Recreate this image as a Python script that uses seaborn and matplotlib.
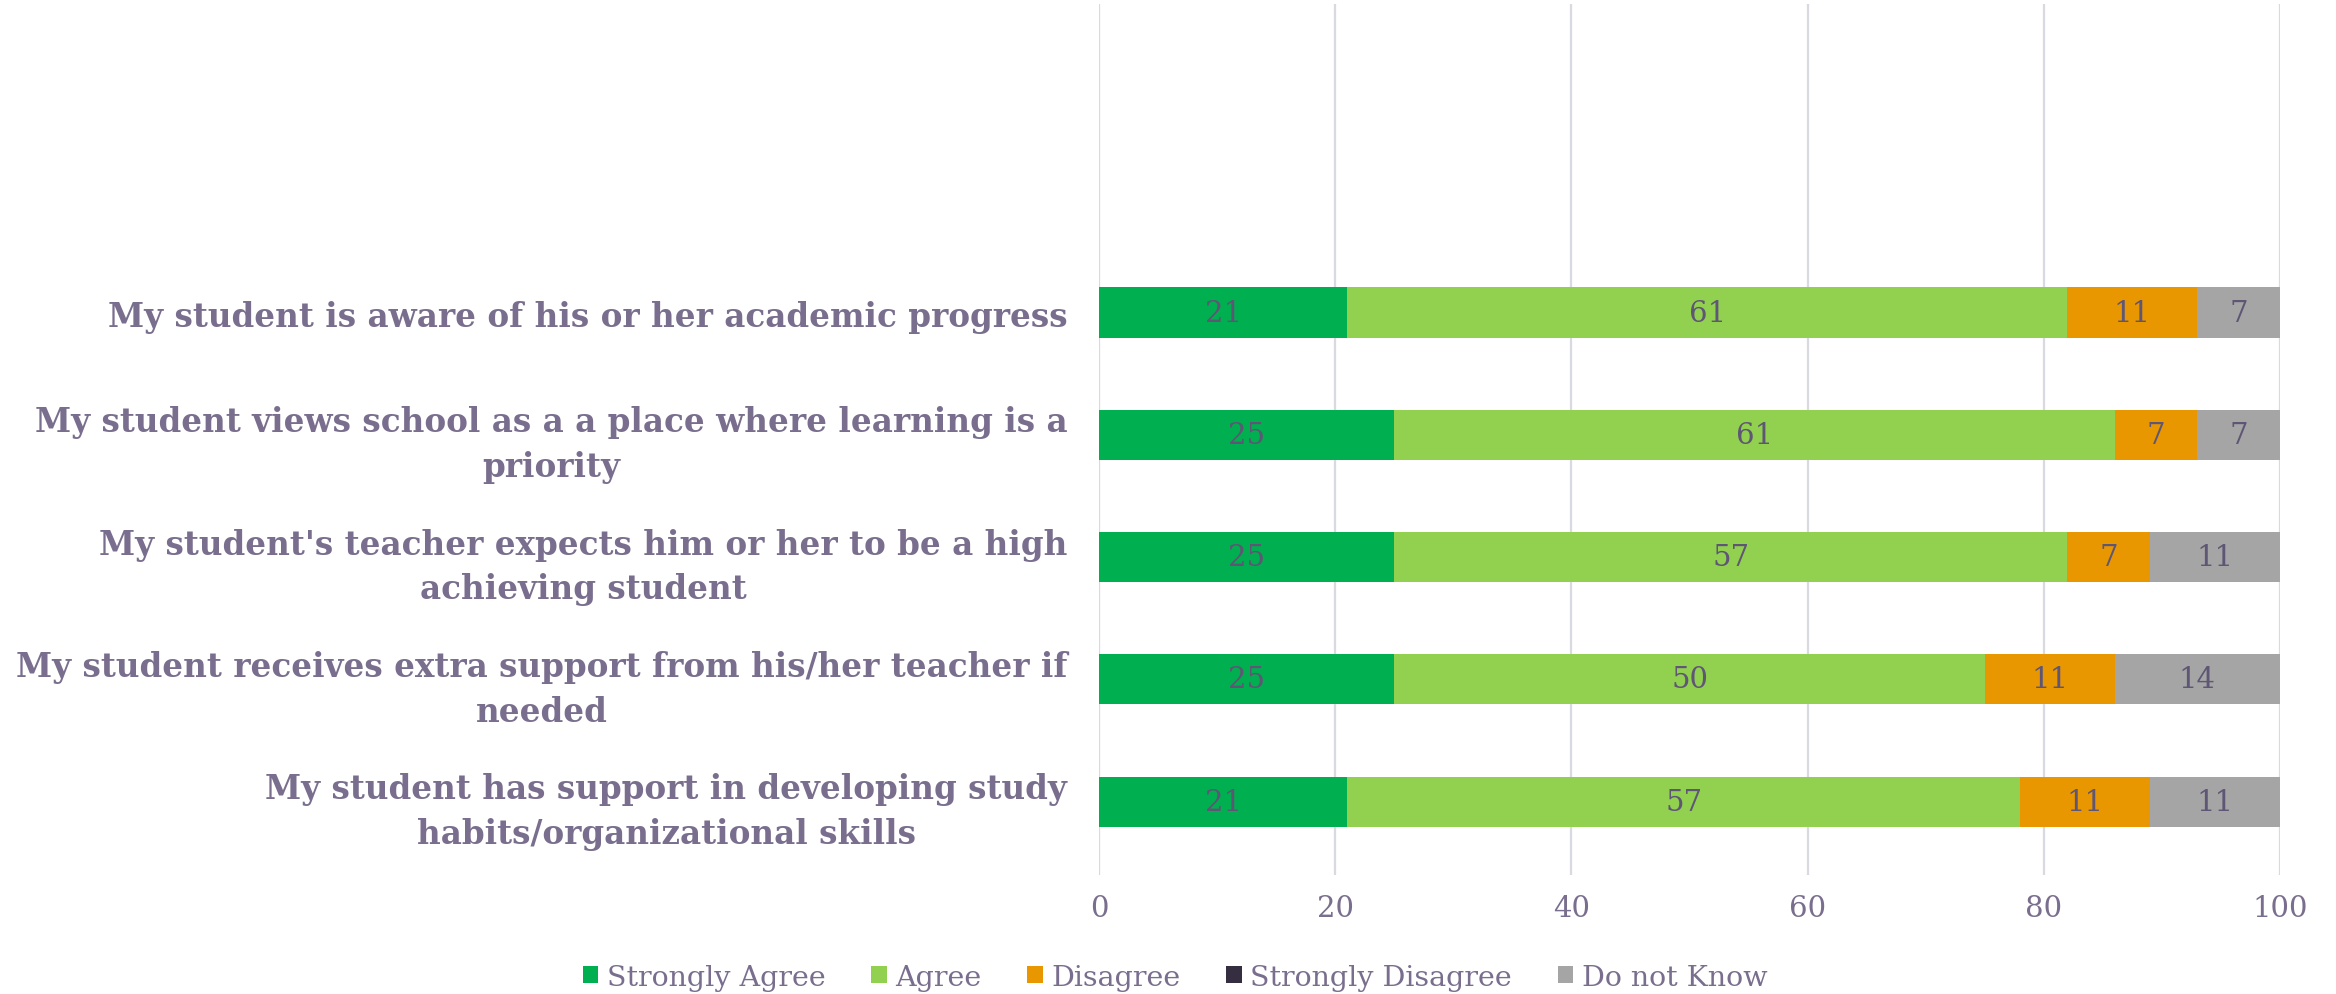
import matplotlib
matplotlib.use("Agg")
import matplotlib.pyplot as plt
from matplotlib.patches import Patch
import seaborn as sns
import pandas as pd
import numpy as np

# Survey statements (top to bottom)
statements = [
    "My student is aware of his or her academic progress",
    "My student views school as a a place where learning is a\npriority",
    "My student's teacher expects him or her to be a high\nachieving student",
    "My student receives extra support from his/her teacher if\nneeded",
    "My student has support in developing study\nhabits/organizational skills",
]

# Response shares (%)
strongly_agree = [21, 25, 25, 25, 21]
agree = [61, 61, 57, 50, 57]
disagree = [11, 7, 7, 11, 11]
strongly_disagree = [0, 0, 0, 0, 0]
do_not_know = [7, 7, 11, 14, 11]

responses = ["Strongly Agree", "Agree", "Disagree", "Strongly Disagree", "Do not Know"]
colors = ["#00B050", "#92D050", "#E99700", "#352E40", "#A5A5A5"]
xticks = [0, 20, 40, 60, 80, 100]

text_color = "#7A6E8E"
value_color = "#5E5674"

sns.set_theme(style="white")
plt.rcParams["font.family"] = ["DejaVu Serif", "DejaVu Sans"]

df = pd.DataFrame(
    {
        "Statement": statements,
        responses[0]: strongly_agree,
        responses[1]: agree,
        responses[2]: disagree,
        responses[3]: strongly_disagree,
        responses[4]: do_not_know,
    }
)
cum = df[responses].cumsum(axis=1)

fig = plt.figure(figsize=(23.36, 9.95), dpi=100)
ax = fig.add_axes([0.4705, 0.1196, 0.5055, 0.875])

# Stacked bars: draw cumulative totals from the last segment to the first
for resp, col in reversed(list(zip(responses, colors))):
    sns.barplot(
        data=cum.assign(Statement=df["Statement"]),
        x=resp,
        y="Statement",
        orient="h",
        color=col,
        width=0.41,
        saturation=1,
        linewidth=0,
        ax=ax,
    )

# Segment value labels
for i in range(len(statements)):
    left = 0
    for resp in responses:
        v = df.loc[i, resp]
        if v > 0:
            ax.text(
                left + v / 2, i, f"{v}",
                ha="center", va="center",
                fontsize=21, color=value_color,
            )
        left += v

ax.set_xlim(0, 100)
ax.set_ylim(4.6, -2.52)
ax.set_xticks(xticks)
ax.set_xticklabels([str(t) for t in xticks], fontsize=21, color=text_color)
ax.set_xlabel("")
ax.set_ylabel("")
ax.tick_params(axis="x", length=0, pad=14)
ax.tick_params(axis="y", length=0, pad=23)
for lab in ax.get_yticklabels():
    lab.set_fontsize(23.5)
    lab.set_fontweight("bold")
    lab.set_color(text_color)
    lab.set_multialignment("center")
    lab.set_linespacing(1.45)

ax.grid(axis="x", color="#D9D9E1", linewidth=1.6)
ax.set_axisbelow(True)
for s in ax.spines.values():
    s.set_visible(False)

handles = [Patch(facecolor=c, edgecolor="none", label=r) for r, c in zip(responses, colors)]
leg = fig.legend(
    handles=handles, loc="center", bbox_to_anchor=(0.503, 0.017), ncol=5,
    frameon=False, fontsize=20.5, handlelength=0.55, handleheight=0.55,
    handletextpad=0.3, columnspacing=1.6,
)
for t in leg.get_texts():
    t.set_color(text_color)

fig.savefig("out.png", dpi=100, facecolor="white")
